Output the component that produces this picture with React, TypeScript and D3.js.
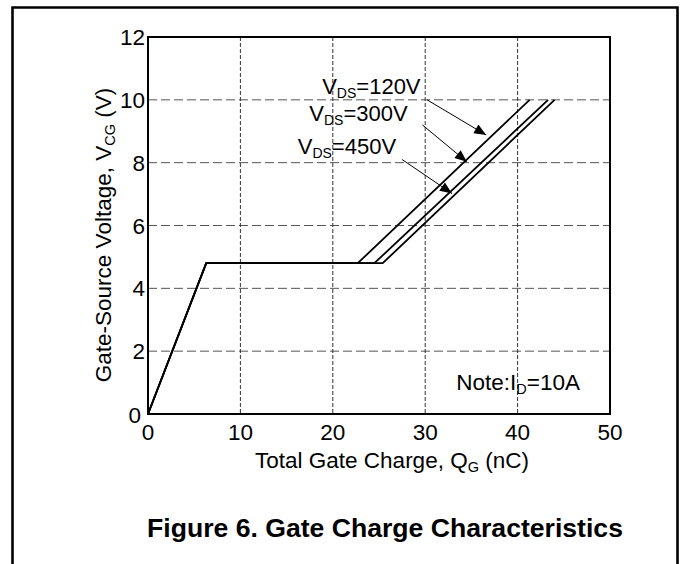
import { useEffect, useRef } from 'react';
import * as d3 from 'd3';

// tick values
const xTicks = [0, 10, 20, 30, 40, 50];
const yTicks = [0, 2, 4, 6, 8, 10, 12];

// gate charge curves (Qg in nC, Vgs in V)
const qg120 = [0, 6.3, 22.7, 41.3];
const vgs120 = [0, 4.8, 4.8, 10];
const qg300 = [0, 6.3, 24.5, 43.3];
const vgs300 = [0, 4.8, 4.8, 10];
const qg450 = [0, 6.3, 25.4, 44.0];
const vgs450 = [0, 4.8, 4.8, 10];

// VDS annotations: label, arrow tail and arrow head in data units
const vdsLabels = ['120V', '300V', '450V'];
const labelQ = [18.85, 17.45, 16.2];
const labelV = [10.18, 9.34, 8.27];
const arrowFromQ = [30.2, 29.7, 27.5];
const arrowFromV = [10.0, 9.2, 8.1];
const arrowToQ = [36.6, 34.5, 32.9];
const arrowToV = [8.88, 8.03, 7.02];

const FONT = '"Liberation Sans", Arial, sans-serif';

export default function App() {
  const svgRef = useRef<SVGSVGElement>(null);

  useEffect(() => {
    const svg = d3.select(svgRef.current);
    svg.selectAll('*').remove();

    const x = d3.scaleLinear().domain([0, 50]).range([148, 610]);
    const y = d3.scaleLinear().domain([0, 12]).range([414, 37]);

    // outer figure border (open at the bottom)
    svg.append('path')
      .attr('d', 'M12.5,570 V7.5 H677.5 V570')
      .attr('fill', 'none')
      .attr('stroke', '#000')
      .attr('stroke-width', 2.6);

    // grid
    svg.append('g')
      .selectAll('line')
      .data(yTicks.slice(1, -1))
      .enter()
      .append('line')
      .attr('x1', x(0)).attr('x2', x(50))
      .attr('y1', d => y(d)).attr('y2', d => y(d))
      .attr('stroke', '#555')
      .attr('stroke-width', 1)
      .attr('stroke-dasharray', '9,4');

    svg.append('g')
      .selectAll('line')
      .data(xTicks.slice(1, -1))
      .enter()
      .append('line')
      .attr('x1', d => x(d)).attr('x2', d => x(d))
      .attr('y1', y(12)).attr('y2', y(0))
      .attr('stroke', '#333')
      .attr('stroke-width', 1)
      .attr('stroke-dasharray', '4,2');

    // curves
    const line = d3.line<[number, number]>()
      .x(d => x(d[0]))
      .y(d => y(d[1]));

    const curves = [
      d3.zip(qg120, vgs120),
      d3.zip(qg300, vgs300),
      d3.zip(qg450, vgs450),
    ] as [number, number][][];

    svg.append('g')
      .selectAll('path')
      .data(curves)
      .enter()
      .append('path')
      .attr('d', d => line(d))
      .attr('fill', 'none')
      .attr('stroke', '#000')
      .attr('stroke-width', 1.8)
      .attr('stroke-linejoin', 'miter');

    // plot frame
    svg.append('rect')
      .attr('x', x(0)).attr('y', y(12))
      .attr('width', x(50) - x(0))
      .attr('height', y(0) - y(12))
      .attr('fill', 'none')
      .attr('stroke', '#000')
      .attr('stroke-width', 2);

    // arrow marker
    svg.append('defs')
      .append('marker')
      .attr('id', 'arrowhead')
      .attr('markerUnits', 'userSpaceOnUse')
      .attr('viewBox', '0 0 12 10')
      .attr('refX', 12).attr('refY', 5)
      .attr('markerWidth', 13).attr('markerHeight', 10)
      .attr('orient', 'auto')
      .append('path')
      .attr('d', 'M0,0 L12,5 L0,10 Z')
      .attr('fill', '#000');

    const ann = svg.append('g');
    vdsLabels.forEach((lbl, i) => {
      ann.append('line')
        .attr('x1', x(arrowFromQ[i])).attr('y1', y(arrowFromV[i]))
        .attr('x2', x(arrowToQ[i])).attr('y2', y(arrowToV[i]))
        .attr('stroke', '#000')
        .attr('stroke-width', 1)
        .attr('marker-end', 'url(#arrowhead)');

      const t = ann.append('text')
        .attr('x', x(labelQ[i])).attr('y', y(labelV[i]))
        .attr('font-family', FONT)
        .attr('font-size', 22);
      t.append('tspan').text('V');
      t.append('tspan').attr('font-size', 14).attr('dy', 4).text('DS');
      t.append('tspan').attr('dy', -4).text('=' + lbl);
    });

    // tick labels
    svg.append('g')
      .selectAll('text')
      .data(yTicks)
      .enter()
      .append('text')
      .attr('x', d => (d === 0 ? 141 : 145))
      .attr('y', d => (d === 0 ? y(d) + 1 : y(d)))
      .attr('dy', '0.36em')
      .attr('text-anchor', 'end')
      .attr('font-family', FONT)
      .attr('font-size', 22.5)
      .text(d => d);

    svg.append('g')
      .selectAll('text')
      .data(xTicks)
      .enter()
      .append('text')
      .attr('x', d => x(d))
      .attr('y', 440)
      .attr('text-anchor', 'middle')
      .attr('font-family', FONT)
      .attr('font-size', 22.5)
      .text(d => d);

    // axis titles
    const xt = svg.append('text')
      .attr('x', 392).attr('y', 468)
      .attr('text-anchor', 'middle')
      .attr('font-family', FONT)
      .attr('font-size', 22.5);
    xt.append('tspan').text('Total Gate Charge, Q');
    xt.append('tspan').attr('font-size', 14.5).attr('dy', 4).text('G');
    xt.append('tspan').attr('dy', -4).text(' (nC)');

    const yt = svg.append('text')
      .attr('transform', 'translate(111,235) rotate(-90)')
      .attr('text-anchor', 'middle')
      .attr('font-family', FONT)
      .attr('font-size', 22.5);
    yt.append('tspan').text('Gate-Source Voltage, V');
    yt.append('tspan').attr('font-size', 14.5).attr('dy', 4).text('CG');
    yt.append('tspan').attr('dy', -4).text(' (V)');

    // note
    const note = svg.append('text')
      .attr('x', 580).attr('y', 390)
      .attr('text-anchor', 'end')
      .attr('font-family', FONT)
      .attr('font-size', 22.5);
    note.append('tspan').text('Note:I');
    note.append('tspan').attr('font-size', 14.5).attr('dy', 4).text('D');
    note.append('tspan').attr('dy', -4).text('=10A');

    // caption
    svg.append('text')
      .attr('x', 385).attr('y', 537)
      .attr('text-anchor', 'middle')
      .attr('font-family', FONT)
      .attr('font-size', 26.6)
      .attr('font-weight', 'bold')
      .text('Figure 6. Gate Charge Characteristics');
  }, []);

  return (
    <svg
      ref={svgRef}
      width={681}
      height={564}
      style={{ position: 'absolute', left: 0, top: 0, background: '#fff' }}
    />
  );
}
